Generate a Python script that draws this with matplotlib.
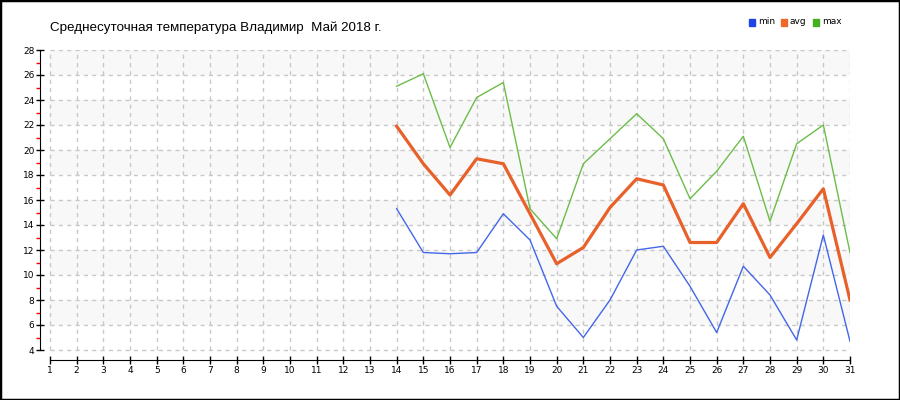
import matplotlib.pyplot as plt
from matplotlib.patches import Rectangle

days = list(range(14, 32))
t_min = [15.3, 11.8, 11.7, 11.8, 14.9, 12.8, 7.5, 5.0, 8.0, 12.0, 12.3, 9.1, 5.4, 10.7, 8.4, 4.8, 13.2, 4.7]
t_avg = [21.9, 18.9, 16.4, 19.3, 18.9, 14.9, 10.9, 12.2, 15.4, 17.7, 17.2, 12.6, 12.6, 15.7, 11.4, 14.1, 16.9, 8.0]
t_max = [25.1, 26.1, 20.2, 24.2, 25.4, 15.3, 12.9, 18.9, 20.9, 22.9, 20.9, 16.1, 18.3, 21.1, 14.3, 20.5, 22.0, 11.8]

x_ticks = list(range(1, 32))
y_ticks = list(range(4, 29, 2))
title = 'Среднесуточная температура Владимир  Май 2018 г.'

fig = plt.figure(figsize=(9, 4), dpi=100)
fig.patch.set_facecolor('white')
fig.add_artist(Rectangle((0, 0), 1, 1, transform=fig.transFigure, fill=False,
                         edgecolor='black', linewidth=2.5))

ax = fig.add_axes([40 / 900, 0.1, 810 / 900, 0.775])
ax.set_xlim(0.625, 31)
ax.set_ylim(3.2, 28)

# полосы фона и сетка
for y0 in range(6, 28, 4):
    ax.fill_between([1, 31], y0, y0 + 2, color='#f8f8f8', lw=0, zorder=0)
ax.hlines(y_ticks, 1, 31, colors='#c8c8c8', linestyles=(0, (3, 3)), lw=1, zorder=1)
ax.vlines(x_ticks, 4, 28, colors='#c8c8c8', linestyles=(0, (3, 3)), lw=1, zorder=1)

ax.plot(days, t_min, color='#4466e8', lw=1, zorder=3)
ax.plot(days, t_avg, color='#e8602a', lw=2.3, zorder=4)
ax.plot(days, t_max, color='#6cbd48', lw=1, zorder=3)

for s in ['top', 'right']:
    ax.spines[s].set_visible(False)
ax.spines['left'].set_bounds(4, 28)
ax.spines['bottom'].set_bounds(1, 31)

ax.set_xticks(x_ticks)
ax.set_yticks(y_ticks)
ax.set_yticks(range(5, 28, 2), minor=True)
ax.tick_params(axis='both', which='major', labelsize=6.5, direction='inout',
               length=6, width=1, pad=1)
ax.tick_params(axis='y', which='minor', colors='red', length=3, width=1,
               direction='out')

fig.text(50 / 900, 1 - 28 / 400, title, fontsize=9.6, family='Liberation Sans',
         va='center', ha='left')

# легенда
leg = [('min', '#1f44e6'), ('avg', '#f06828'), ('max', '#44b020')]
lx = 749
for name, c in leg:
    fig.add_artist(Rectangle((lx / 900, 1 - 25.5 / 400), 6 / 900, 6 / 400,
                             transform=fig.transFigure, color=c))
    fig.text((lx + 9) / 900, 1 - 22 / 400, name, fontsize=6.5, va='center', ha='left')
    lx += 32

fig.savefig('out.png', dpi=100)
